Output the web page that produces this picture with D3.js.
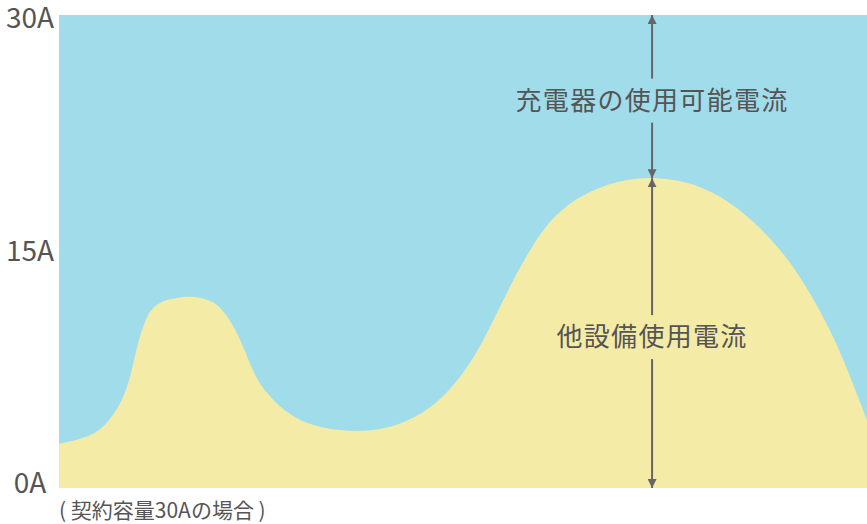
<!DOCTYPE html>
<html>
<head>
<meta charset="utf-8">
<script src="https://cdn.jsdelivr.net/npm/d3@7"></script>
<style>
  html, body { margin: 0; padding: 0; background: #fff; }
  svg { display: block; font-family: "Noto Sans CJK JP", "Noto Sans", sans-serif; }
</style>
</head>
<body>
<svg id="chart"></svg>
<script>
// time position (0-100 across the day) and other equipment current (A)
var times = [0, 3.6, 5.7, 7.8, 9.0, 9.8, 11.0, 12.0, 13.1, 16.5, 19.3, 20.9, 22.7, 24.3, 26.4, 28.4, 30.5, 33.5, 37.6, 41.8, 45.9, 49.3, 52.1, 54.2, 56.2, 58.7, 61.1, 64.5, 69.4, 73.5, 77.7, 81.8, 85.9, 90.1, 93.3, 96.3, 99.1, 100];
var usage = [2.8, 3.2, 3.9, 5.4, 7.3, 9.4, 11.1, 11.6, 11.95, 12.25, 11.85, 10.9, 9.2, 6.9, 5.6, 4.7, 4.1, 3.7, 3.55, 3.9, 4.95, 6.7, 8.9, 11.1, 13.2, 15.5, 17.2, 18.6, 19.55, 19.75, 19.45, 18.6, 17.0, 14.7, 12.1, 9.2, 5.5, 4.3];
var tickValues = [0, 15, 30];
var tickLabels = ["0A", "15A", "30A"];
var contract = 30;
var arrowTime = 73.4;
var topLabel = "充電器の使用可能電流";
var bottomLabel = "他設備使用電流";
var note = "( 契約容量30Aの場合 )";

var svgWidth = 867, svgHeight = 524;
var margin = { top: 15, right: 0, bottom: 36, left: 59 };
var width = svgWidth - margin.left - margin.right;
var height = svgHeight - margin.top - margin.bottom;

var svg = d3.select("#chart")
    .attr("width", svgWidth)
    .attr("height", svgHeight);

var defs = svg.append("defs");
defs.append("marker")
    .attr("id", "head")
    .attr("viewBox", "0 0 10 10")
    .attr("refX", 10).attr("refY", 5)
    .attr("markerWidth", 4.5).attr("markerHeight", 4.5)
    .attr("markerUnits", "strokeWidth")
    .attr("orient", "auto-start-reverse")
    .append("path")
    .attr("d", "M0,0 L10,5 L0,10 Z")
    .attr("fill", "#666");

var g = svg.append("g")
    .attr("transform", "translate(" + margin.left + "," + margin.top + ")");

var x = d3.scaleLinear().domain([0, 100]).range([0, width]);
var y = d3.scaleLinear().domain([0, contract]).range([height, 0]);
// label baselines sit a little inside the plot ends
var yLab = d3.scaleLinear().domain([0, contract]).range([height + 5, 13]);

var data = times.map((t, i) => ({ t: t, v: usage[i] }));

// available area (whole contract)
g.append("rect")
    .attr("x", x(0)).attr("y", y(contract))
    .attr("width", x(100) - x(0))
    .attr("height", y(0) - y(contract))
    .attr("fill", "#a0dcea");

var area = d3.area()
    .x(d => x(d.t))
    .y0(y(0))
    .y1(d => y(d.v))
    .curve(d3.curveBasis);

g.append("path")
    .datum(data)
    .attr("fill", "#f4eba6")
    .attr("d", area);

// y labels
g.selectAll(".ylab")
    .data(tickValues)
    .enter().append("text")
    .attr("class", "ylab")
    .attr("x", -29)
    .attr("y", d => yLab(d))
    .attr("text-anchor", "middle")
    .attr("font-size", 28)
    .attr("fill", "#555")
    .text((d, i) => tickLabels[i]);

// value of curve at arrow position
function valueAt(t) {
    var i = d3.bisector(d => d.t).left(data, t);
    var a = data[i - 1], b = data[i];
    return a.v + (b.v - a.v) * (t - a.t) / (b.t - a.t);
}
var peak = valueAt(arrowTime) - 0.1;
var ax = x(arrowTime);

function labelledArrow(v0, v1, label) {
    var ya = y(v0), yb = y(v1);
    var mid = (ya + yb) / 2 + 4;
    var gap = 22;
    g.append("line")
        .attr("x1", ax).attr("x2", ax)
        .attr("y1", mid - gap).attr("y2", yb)
        .attr("stroke", "#666").attr("stroke-width", 2)
        .attr("marker-end", "url(#head)");
    g.append("line")
        .attr("x1", ax).attr("x2", ax)
        .attr("y1", mid + gap).attr("y2", ya)
        .attr("stroke", "#666").attr("stroke-width", 2)
        .attr("marker-end", "url(#head)");
    g.append("text")
        .attr("x", ax)
        .attr("y", mid)
        .attr("dy", "0.36em")
        .attr("text-anchor", "middle")
        .attr("font-size", 26)
        .attr("letter-spacing", 1.3)
        .attr("fill", "#555")
        .text(label);
}

labelledArrow(peak, contract, topLabel);
labelledArrow(0, peak, bottomLabel);

// note under chart
svg.append("text")
    .attr("x", margin.left)
    .attr("y", margin.top + height + 30)
    .attr("font-size", 21)
    .attr("fill", "#555")
    .text(note);
</script>
</body>
</html>
